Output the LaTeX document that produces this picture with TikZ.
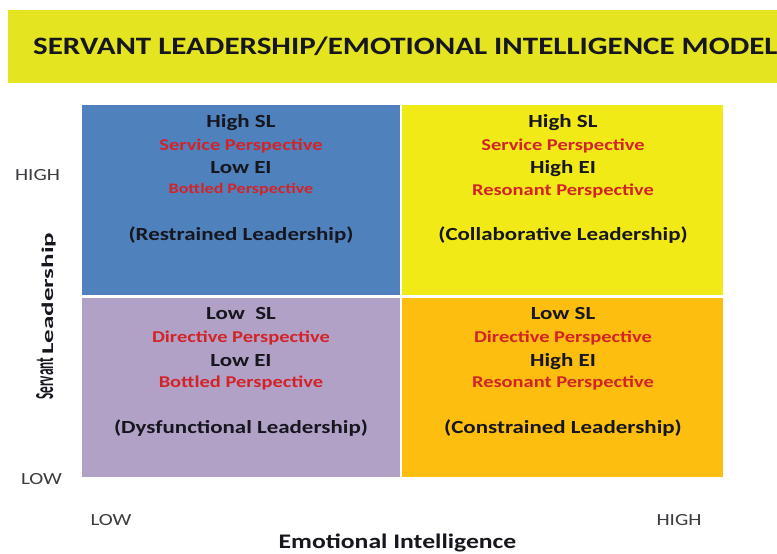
\documentclass[tikz,border=0pt]{standalone}
\usepackage{fontspec}
\setmainfont{Carlito}[FakeStretch=1.24]
\usepackage{graphicx}
\definecolor{bandc}{RGB}{228,228,32}
\definecolor{bluec}{RGB}{79,129,189}
\definecolor{yellc}{RGB}{242,234,22}
\definecolor{purpc}{RGB}{178,161,199}
\definecolor{orngc}{RGB}{253,190,16}
\definecolor{inkc}{RGB}{22,22,30}
\definecolor{perspc}{RGB}{210,36,40}
\definecolor{axisc}{RGB}{60,60,64}
\begin{document}
\begin{tikzpicture}[x=1bp,y=-1bp,
  quad/.style={draw=none,inner sep=0,outer sep=0},
  blk/.style={font=\fontsize{18.5bp}{22bp}\selectfont\bfseries,text=inkc,anchor=base,inner sep=0},
  persp/.style={font=\fontsize{16.5bp}{20bp}\selectfont\bfseries,text=perspc,anchor=base,inner sep=0},
  axislab/.style={font=\fontsize{17bp}{20bp}\selectfont,text=axisc,anchor=base,inner sep=0}]
\useasboundingbox[fill=white] (0,0) rectangle (777,554);
% title band
\node[quad,fill=bandc,minimum width=769bp,minimum height=73bp] (band) at (392.5,46.5) {};
\node[anchor=base west,inner sep=0,text=inkc,font=\fontsize{25bp}{30bp}\selectfont\bfseries] (title) at (33,55) {SERVANT LEADERSHIP/EMOTIONAL INTELLIGENCE MODEL};
% quadrants
\node[quad,fill=bluec,minimum width=318bp,minimum height=190bp] (q1) at (241,200) {};
\node[quad,fill=yellc,minimum width=321bp,minimum height=190bp] (q2) at (562.5,200) {};
\node[quad,fill=purpc,minimum width=318bp,minimum height=179bp] (q3) at (241,387.5) {};
\node[quad,fill=orngc,minimum width=321bp,minimum height=179bp] (q4) at (562.5,387.5) {};
% top-left
\node[blk] (a1) at (241,128) {High SL};
\node[persp] (a2) at (241,150.5) {Service Perspective};
\node[blk] (a3) at (241,174) {Low EI};
\node[persp,font=\fontsize{14.5bp}{18bp}\selectfont\bfseries] (a4) at (241,194) {Bottled Perspective};
\node[blk] (a5) at (241,241) {(Restrained Leadership)};
% top-right
\node[blk] (b1) at (563,128) {High SL};
\node[persp] (b2) at (563,150.5) {Service Perspective};
\node[blk] (b3) at (563,174) {High EI};
\node[persp] (b4) at (563,195.5) {Resonant Perspective};
\node[blk] (b5) at (563,241) {(Collaborative Leadership)};
% bottom-left
\node[blk] (c1) at (241,319) {Low\ \ SL};
\node[persp] (c2) at (241,342.5) {Directive Perspective};
\node[blk] (c3) at (241,366) {Low EI};
\node[persp] (c4) at (241,387.5) {Bottled Perspective};
\node[blk] (c5) at (241,433) {(Dysfunctional Leadership)};
% bottom-right
\node[blk] (d1) at (563,319) {Low SL};
\node[persp] (d2) at (563,342.5) {Directive Perspective};
\node[blk] (d3) at (563,366) {High EI};
\node[persp] (d4) at (563,387.5) {Resonant Perspective};
\node[blk] (d5) at (563,433) {(Constrained Leadership)};
% axes
\node[axislab] (yhigh) at (37.5,180.5) {HIGH};
\node[axislab] (ylow) at (41.5,484) {LOW};
\node[axislab] (xlow) at (111,525) {LOW};
\node[axislab] (xhigh) at (679,525) {HIGH};
\node[anchor=base,inner sep=0,text=inkc,font=\fontsize{20.7bp}{24bp}\selectfont\bfseries] (xlab) at (397.5,548) {Emotional Intelligence};
\node[rotate=90,anchor=base west,inner sep=0,text=inkc,font=\bfseries] (ylab) at (53,400) {\resizebox{42bp}{17bp}{Servant}\hspace{3bp}\resizebox{122bp}{11.5bp}{Leadership}};
\end{tikzpicture}
\end{document}
